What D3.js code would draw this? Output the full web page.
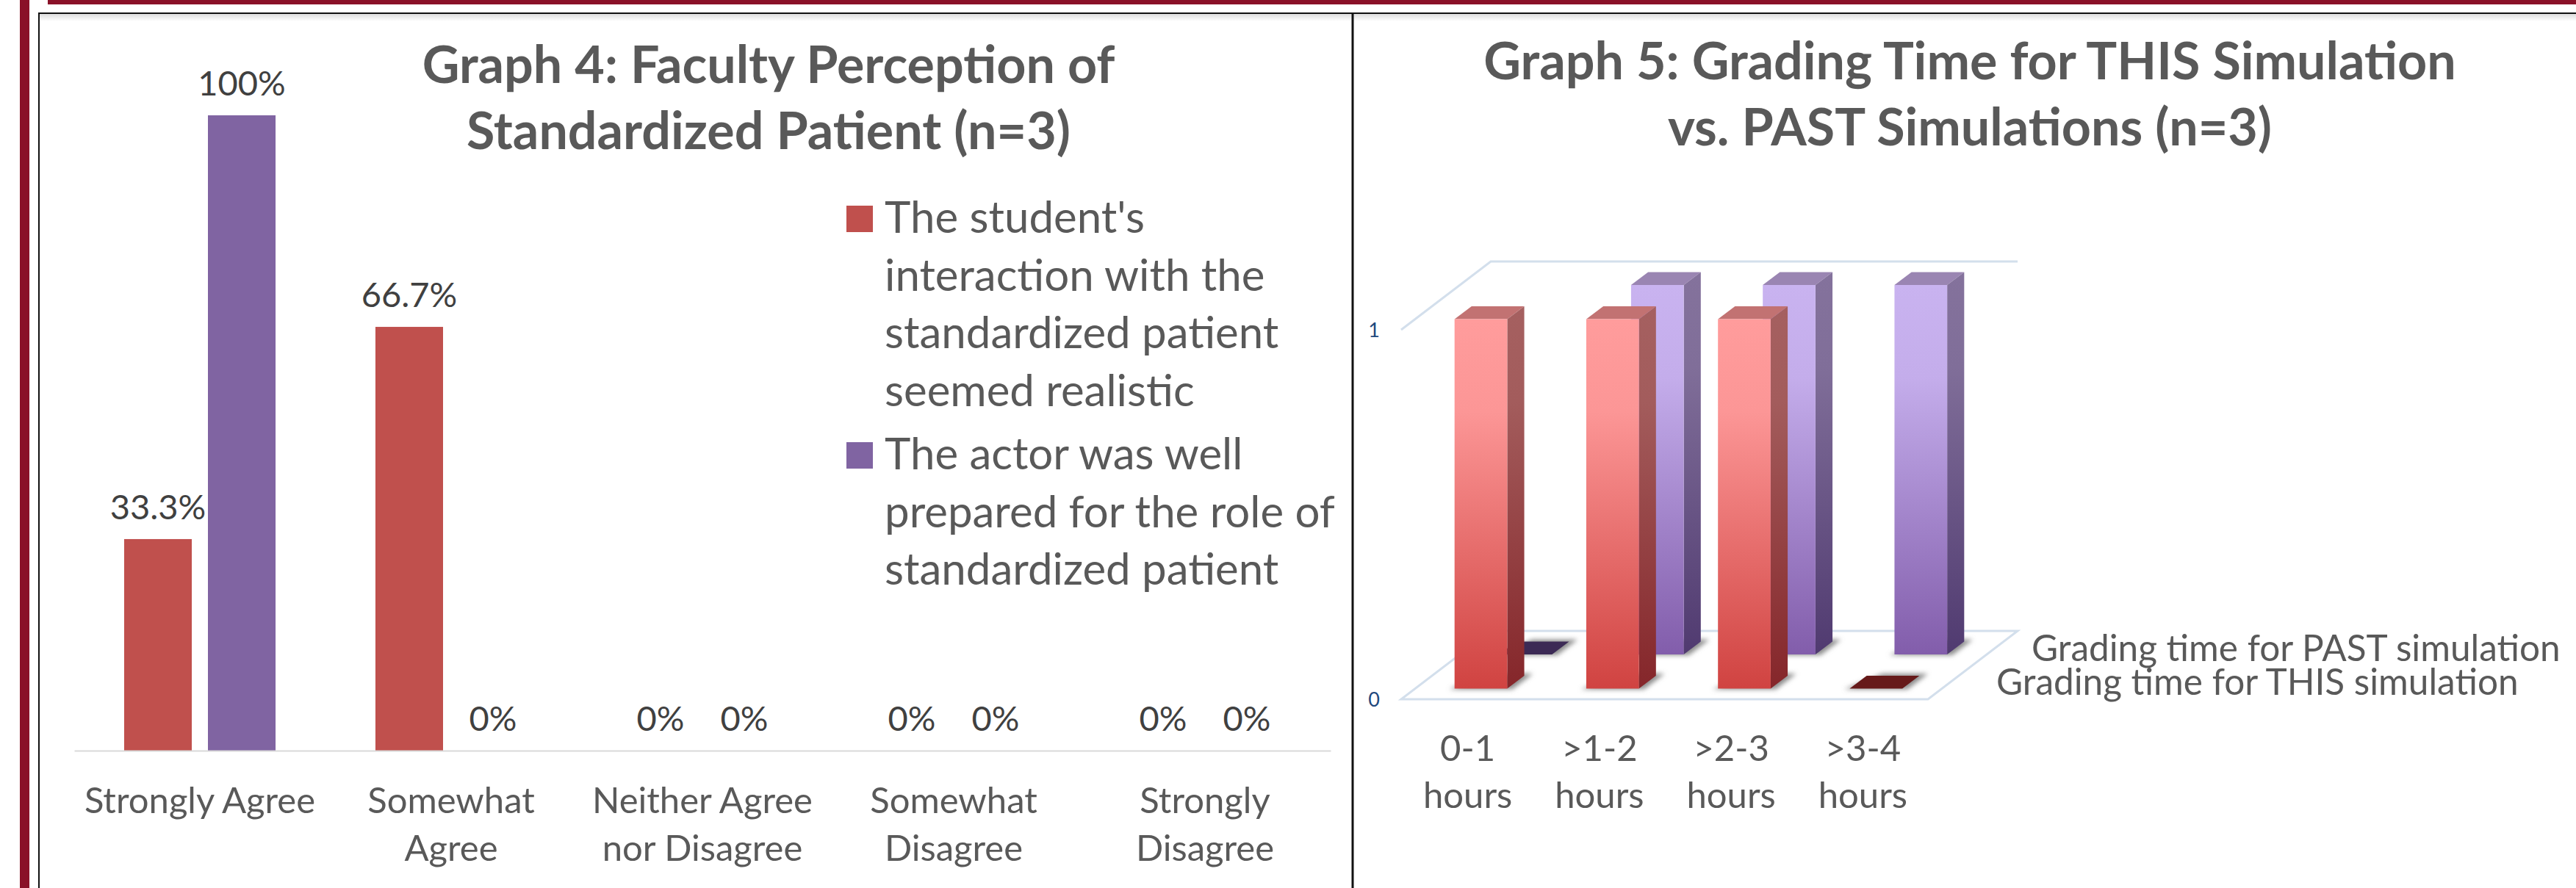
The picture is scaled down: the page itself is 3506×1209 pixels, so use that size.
<!DOCTYPE html>
<html lang="en">
<head>
<meta charset="utf-8">
<title>Graph 4 and Graph 5</title>
<script src="https://d3js.org/d3.v7.min.js"></script>
<style>
    html, body { margin: 0; padding: 0; background: #fff; overflow: hidden; }
    text { font-family: Lato, "Open Sans", sans-serif; }
    .title { font-weight: 700; fill: #595959; text-anchor: middle; font-size: 70px; }
    .value { fill: #404040; text-anchor: middle; font-size: 47px; }
    .cat { fill: #595959; text-anchor: middle; font-size: 49px; }
    .legend { fill: #595959; font-size: 60px; }
    .axis3d { fill: #1f497d; text-anchor: middle; font-size: 27px; }
    .series3d { fill: #595959; font-size: 49.5px; }
</style>
</head>
<body>
<script type="text/javascript">

    const w = 3506;
    const h = 1209;

    // Graph 4 data
    const g4Title = ["Graph 4: Faculty Perception of", "Standardized Patient (n=3)"];
    const g4Categories = ["Strongly Agree", "Somewhat Agree", "Neither Agree nor Disagree", "Somewhat Disagree", "Strongly Disagree"];
    const g4CategoryLines = [["Strongly Agree"], ["Somewhat", "Agree"], ["Neither Agree", "nor Disagree"], ["Somewhat", "Disagree"], ["Strongly", "Disagree"]];
    const g4Realistic = [33.3, 66.7, 0, 0, 0];
    const g4Prepared = [100, 0, 0, 0, 0];
    const g4LegendRealistic = ["The student's", "interaction with the", "standardized patient", "seemed realistic"];
    const g4LegendPrepared = ["The actor was well", "prepared for the role of", "standardized patient"];

    // Graph 5 data
    const g5Title = ["Graph 5: Grading Time for THIS Simulation", "vs. PAST Simulations (n=3)"];
    const g5Categories = ["0-1 hours", ">1-2 hours", ">2-3 hours", ">3-4 hours"];
    const g5This = [1, 1, 1, 0];
    const g5Past = [0, 1, 1, 1];
    const g5Ticks = [0, 1];
    const g5SeriesNames = ["Grading time for THIS simulation", "Grading time for PAST simulation"];

    const svg = d3.select("body").append("svg")
        .attr("width", w)
        .attr("height", h)
        .style("display", "block");

    const defs = svg.append("defs");

    function vGradient(id, top, bottom) {
        const g = defs.append("linearGradient").attr("id", id)
            .attr("x1", 0).attr("y1", 0).attr("x2", 0).attr("y2", 1);
        g.append("stop").attr("offset", "0%").attr("stop-color", top);
        g.append("stop").attr("offset", "25%").attr("stop-color", d3.interpolateRgb(top, bottom)(0.07));
        g.append("stop").attr("offset", "100%").attr("stop-color", bottom);
    }
    vGradient("redFront", "#ff9c9c", "#d04341");
    vGradient("redSide", "#a56060", "#85262a");
    vGradient("purpleFront", "#c9b3f0", "#825dab");
    vGradient("purpleSide", "#84729c", "#503a70");

    defs.append("filter").attr("id", "blur").attr("x", "-30%").attr("y", "-60%")
        .attr("width", "160%").attr("height", "220%")
        .append("feGaussianBlur").attr("stdDeviation", 3);
    const soft = defs.append("linearGradient").attr("id", "soft")
        .attr("x1", 0).attr("y1", 0).attr("x2", 0).attr("y2", 1);
    soft.append("stop").attr("offset", "0%").attr("stop-color", "#dcdcdc");
    soft.append("stop").attr("offset", "100%").attr("stop-color", "#ffffff");

    // page frame
    svg.append("rect").attr("x", 27).attr("y", 0).attr("width", 13).attr("height", h).attr("fill", "#8a1128");
    svg.append("rect").attr("x", 65).attr("y", 0).attr("width", w - 65).attr("height", 6).attr("fill", "#8a1128");
    svg.append("rect").attr("x", 54).attr("y", 19).attr("width", w - 54).attr("height", 10).attr("fill", "url(#soft)");
    svg.append("line").attr("x1", 53).attr("x2", w).attr("y1", 18).attr("y2", 18).attr("stroke", "#111").attr("stroke-width", 2);
    svg.append("line").attr("x1", 53).attr("x2", 53).attr("y1", 17).attr("y2", h).attr("stroke", "#111").attr("stroke-width", 2);
    svg.append("line").attr("x1", 1841).attr("x2", 1841).attr("y1", 17).attr("y2", h).attr("stroke", "#111").attr("stroke-width", 3);

    // ---------- Graph 4 ----------
    const g4 = svg.append("g");

    const xOuter = d3.scaleBand().domain(g4Categories).range([101, 1811]);
    const xInner = d3.scaleBand().domain(["realistic", "prepared"])
        .range([0, xOuter.bandwidth()]).paddingInner(0.193).paddingOuter(0.596);
    const yScale = d3.scaleLinear().domain([0, 100]).range([1022, 157]);

    g4.selectAll(".title").data(g4Title).join("text")
        .attr("class", "title")
        .attr("x", 1046)
        .attr("y", (d, i) => 113 + i * 90)
        .text(d => d);

    const g4Series = [
        { key: "realistic", values: g4Realistic, color: "#c0504d" },
        { key: "prepared", values: g4Prepared, color: "#8064a2" }
    ];

    g4Series.forEach(s => {
        const rows = g4Categories.map((c, i) => ({ c: c, v: s.values[i] }));
        g4.selectAll(".bar-" + s.key).data(rows).join("rect")
            .attr("class", "bar-" + s.key)
            .attr("x", d => xOuter(d.c) + xInner(s.key))
            .attr("y", d => yScale(d.v))
            .attr("width", xInner.bandwidth())
            .attr("height", d => yScale(0) - yScale(d.v))
            .attr("fill", s.color);
        g4.selectAll(".val-" + s.key).data(rows).join("text")
            .attr("class", "value val-" + s.key)
            .attr("x", d => xOuter(d.c) + xInner(s.key) + xInner.bandwidth() / 2)
            .attr("y", d => yScale(d.v) - 27)
            .text(d => d.v + "%");
    });

    const xAxis = d3.axisBottom(xOuter).tickSize(0).tickFormat("");
    const xAxisG = g4.append("g").attr("transform", "translate(0," + yScale(0) + ")").call(xAxis);
    xAxisG.select(".domain").attr("stroke", "#d9d9d9").attr("stroke-width", 2);

    g4Categories.forEach((c, i) => {
        g4.selectAll(".cat-" + i).data(g4CategoryLines[i]).join("text")
            .attr("class", "cat cat-" + i)
            .attr("x", xOuter(c) + xOuter.bandwidth() / 2)
            .attr("y", (d, j) => 1107 + j * 65)
            .text(d => d);
    });

    // legend
    const legendBlocks = [
        { lines: g4LegendRealistic, color: "#c0504d", top: 280, first: 317 },
        { lines: g4LegendPrepared, color: "#8064a2", top: 602, first: 639 }
    ];
    legendBlocks.forEach(b => {
        g4.append("rect").attr("x", 1152).attr("y", b.top).attr("width", 36).attr("height", 36).attr("fill", b.color);
        b.lines.forEach((t, i) => {
            g4.append("text").attr("class", "legend")
                .attr("x", 1204).attr("y", b.first + i * 78.5).text(t);
        });
    });

    // ---------- Graph 5 ----------
    const g5 = svg.append("g");

    g5.selectAll(".title").data(g5Title).join("text")
        .attr("class", "title")
        .attr("x", 2681)
        .attr("y", (d, i) => 108 + i * 90)
        .text(d => d);

    const x3 = d3.scaleBand().domain(g5Categories).range([1907, 2624]).paddingInner(0.6).paddingOuter(0.3);
    const x3Step = d3.scaleBand().domain(g5Categories).range([1907, 2624]);
    const y3 = d3.scaleLinear().domain([0, 1]).range([952, 449]);
    const z3 = d3.scaleBand().domain(["this", "past"]).range([0, 1]).paddingInner(0.62).paddingOuter(0.31);
    const depthX = 122;
    const depthY = 93;

    // oblique projection: x in px, v in data units, z in 0..1 of the floor depth
    const pt = (x, v, z) => [x + z * depthX, y3(v) - z * depthY];
    const poly = pts => pts.map(p => p.join(",")).join(" ");

    const wall = "#d3dfec";
    const floorPts = [pt(1907, 0, 0), pt(2624, 0, 0), pt(2624, 0, 1), pt(1907, 0, 1)];
    g5.append("polygon").attr("points", poly(floorPts))
        .attr("fill", "#fff").attr("stroke", wall).attr("stroke-width", 3);
    g5.append("polyline").attr("points", poly([pt(1907, 1, 0), pt(1907, 1, 1), pt(2624, 1, 1)]))
        .attr("fill", "none").attr("stroke", wall).attr("stroke-width", 3);

    g5Ticks.forEach(t => {
        g5.append("text").attr("class", "axis3d").attr("x", 1870).attr("y", y3(t) + 10).text(t);
    });

    const g5Series = [
        { key: "past", values: g5Past, front: "url(#purpleFront)", side: "url(#purpleSide)", top: "#9a85b2", flat: "#3c2a55" },
        { key: "this", values: g5This, front: "url(#redFront)", side: "url(#redSide)", top: "#c27272", flat: "#661a1a" }
    ];

    // back row first so the front row covers it
    g5Series.forEach(s => {
        const z0 = z3(s.key);
        const z1 = z0 + z3.bandwidth();
        g5Categories.forEach((c, i) => {
            const v = s.values[i];
            const x0 = x3(c);
            const x1 = x0 + x3.bandwidth();
            const shadow = [
                pt(x0 - 6, 0, z0 - 0.01),
                pt(x1 + 8, 0, z0 - 0.01),
                pt(x1 + 8, 0, z1 + 0.03),
                pt(x0 + 18, 0, z1 + 0.03)
            ];
            g5.append("polygon").attr("points", poly(shadow))
                .attr("fill", "#8c8c8c").attr("filter", "url(#blur)");
            if (v === 0) {
                g5.append("polygon")
                    .attr("points", poly([pt(x0, 0, z0), pt(x1, 0, z0), pt(x1, 0, z1), pt(x0, 0, z1)]))
                    .attr("fill", s.flat);
                return;
            }
            g5.append("polygon")
                .attr("points", poly([pt(x0, v, z0), pt(x1, v, z0), pt(x1, v, z1), pt(x0, v, z1)]))
                .attr("fill", s.top);
            g5.append("polygon")
                .attr("points", poly([pt(x1, v, z0), pt(x1, v, z1), pt(x1, 0, z1), pt(x1, 0, z0)]))
                .attr("fill", s.side);
            g5.append("polygon")
                .attr("points", poly([pt(x0, v, z0), pt(x1, v, z0), pt(x1, 0, z0), pt(x0, 0, z0)]))
                .attr("fill", s.front);
        });
    });

    g5Categories.forEach(c => {
        const parts = c.split(" ");
        g5.selectAll(".x3-" + parts[0].replace(/\W/g, "")).data(parts).join("text")
            .attr("class", "cat x3-" + parts[0].replace(/\W/g, ""))
            .attr("x", x3Step(c) + x3Step.bandwidth() / 2 + 1)
            .attr("y", (d, j) => 1036 + j * 64)
            .text(d => d);
    });

    // depth axis labels
    g5.append("text").attr("class", "series3d")
        .attr("x", 2717).attr("y", pt(2624, 0, 0.25)[1] + 17).text(g5SeriesNames[0]);
    g5.append("text").attr("class", "series3d")
        .attr("x", 2765).attr("y", pt(2624, 0, 0.75)[1] + 18).text(g5SeriesNames[1]);

</script>
</body>
</html>
